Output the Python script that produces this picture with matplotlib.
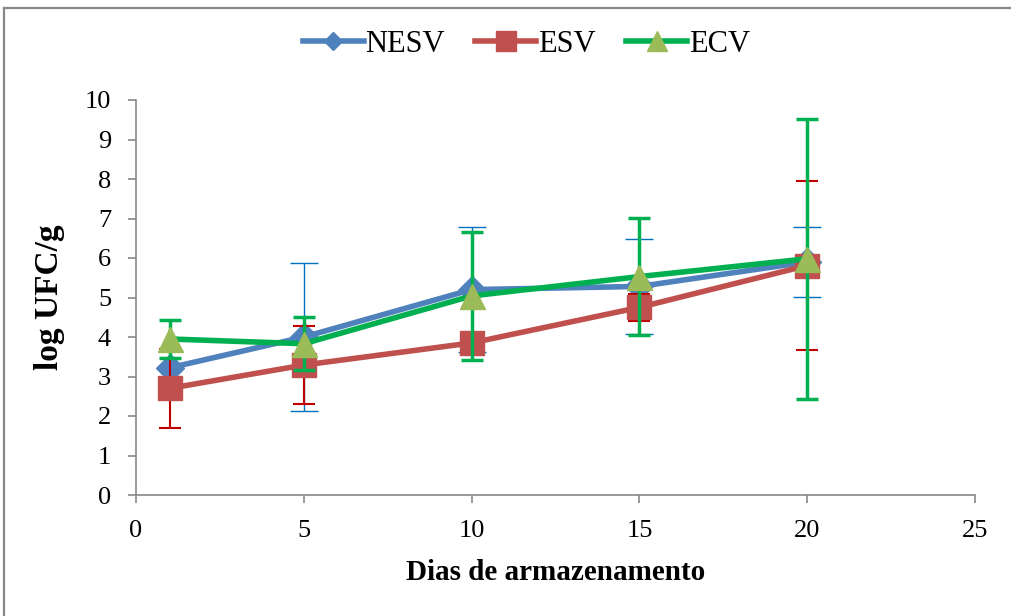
import matplotlib.pyplot as plt
from matplotlib.lines import Line2D
import numpy as np

plt.rcParams['font.family'] = ['Liberation Serif', 'DejaVu Serif']

# dados
dias = [1, 5, 10, 15, 20]
nesv = [3.22, 4.0, 5.2, 5.28, 5.9]
nesv_err = [np.nan, 1.87, 1.58, 1.21, 0.88]
esv = [2.7, 3.29, 3.85, 4.75, 5.81]
esv_err = [1.0, 0.99, 0.0, 0.34, 2.14]
ecv = [3.95, 3.83, 5.04, 5.53, 5.98]
ecv_err = [0.48, 0.67, 1.62, 1.48, 3.55]

fig = plt.figure(figsize=(10.12, 6.16), dpi=100)
ax = fig.add_axes([136 / 1012, 1 - 495 / 616, (975 - 136) / 1012, (495 - 100) / 616])

# moldura cinza
fig.add_artist(Line2D([4 / 1012, 4 / 1012], [0, 1 - 8 / 616], transform=fig.transFigure,
                      color='#888888', lw=1.6))
fig.add_artist(Line2D([4 / 1012, 1], [1 - 8 / 616, 1 - 8 / 616], transform=fig.transFigure,
                      color='#888888', lw=1.6))

ax.errorbar(dias, nesv, yerr=nesv_err, fmt='none', ecolor='#0070C0', elinewidth=1,
            capsize=10, capthick=1, zorder=2)
ax.plot(dias, nesv, color='#4F81BD', lw=4, marker='D', ms=14, zorder=3)

ax.errorbar(dias, esv, yerr=esv_err, fmt='none', ecolor='#C00000', elinewidth=1.5,
            capsize=8, capthick=1.5, zorder=4)
ax.plot(dias, esv, color='#C0504D', lw=4, marker='s', ms=17, zorder=5)

ax.errorbar(dias, ecv, yerr=ecv_err, fmt='none', ecolor='#00B050', elinewidth=2.5,
            capsize=8, capthick=2.5, zorder=6)
ax.plot(dias, ecv, color='#00B050', lw=4, marker='^', ms=18, mfc='#9BBB59',
        mec='#9BBB59', zorder=7)

ax.set_xlim(0, 25)
ax.set_ylim(0, 10)
ax.set_xticks(np.arange(0, 26, 5))
ax.set_yticks(np.arange(0, 11, 1))
for s in ['top', 'right']:
    ax.spines[s].set_visible(False)
for s in ['left', 'bottom']:
    ax.spines[s].set_color('#888888')
    ax.spines[s].set_linewidth(1.2)
ax.tick_params(colors='#888888', labelcolor='black', labelsize=19, length=6, width=1.2)
ax.tick_params(axis='x', pad=12)
ax.tick_params(axis='y', pad=12)

ax.set_xlabel('Dias de armazenamento', fontsize=21, fontweight='bold', labelpad=12)
ax.set_ylabel('log UFC/g', fontsize=24, fontweight='bold', labelpad=14)

handles = [
    Line2D([], [], color='#4F81BD', lw=4, marker='D', ms=9),
    Line2D([], [], color='#C0504D', lw=4, marker='s', ms=14),
    Line2D([], [], color='#00B050', lw=4, marker='^', ms=14, mfc='#9BBB59', mec='#9BBB59'),
]
fig.legend(handles, ['NESV', 'ESV', 'ECV'], loc='center', bbox_to_anchor=(0.52, 1 - 44 / 616),
           ncol=3, frameon=False, fontsize=22, handlelength=2.0, handletextpad=0.05,
           columnspacing=1.0)

fig.savefig('out.png', dpi=100)
